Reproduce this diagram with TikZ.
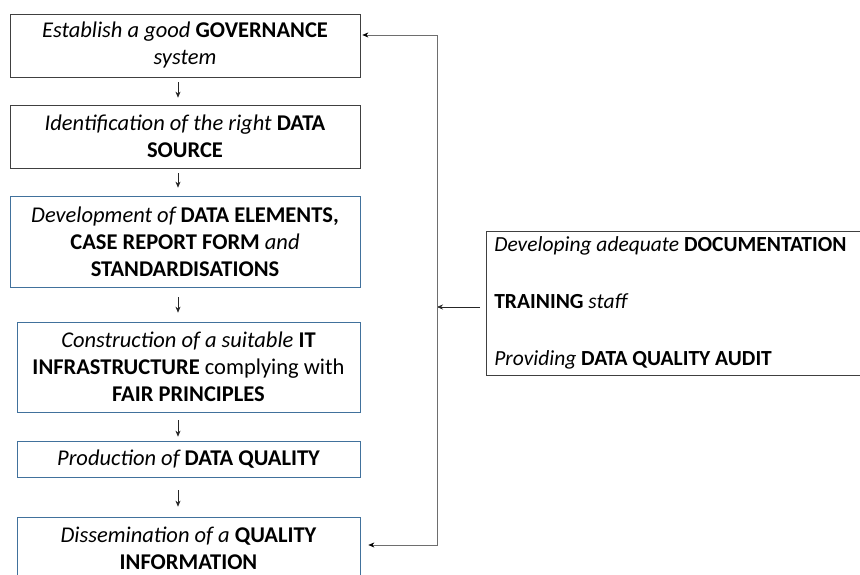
\documentclass[tikz,border=0pt]{standalone}
\usepackage{fontspec}
\setmainfont{Carlito}
\usetikzlibrary{arrows.meta}
\definecolor{boxblue}{RGB}{65,113,156}
\definecolor{loopgray}{RGB}{110,110,110}

\begin{document}
\begin{tikzpicture}[x=1pt,y=1pt,
        stepbox/.style={draw=black!75,line width=0.7pt,align=center,inner sep=0pt,
            font=\fontsize{22.5}{27}\selectfont},
        bluebox/.style={stepbox,draw=boxblue},
        flow/.style={-{Stealth[length=6pt,width=5pt]},line width=0.6pt,black!85}]
        \useasboundingbox (0,0) rectangle (860,575);
        \clip (0,0) rectangle (860,575);
        \node[stepbox,minimum width=350,minimum height=63] (b1) at (185,529.5)
            {\itshape Establish a good \textbf{\upshape GOVERNANCE}\\ \itshape system};
        \node[stepbox,minimum width=350,minimum height=63] (b2) at (185,438.5)
            {\itshape Identification of the right \textbf{\upshape DATA}\\ \textbf{\upshape SOURCE}};
        \node[bluebox,minimum width=350,minimum height=91] (b3) at (185,333.5)
            {\itshape Development of \textbf{\upshape DATA ELEMENTS,}\\
             \textbf{\upshape CASE REPORT FORM} \itshape and\\ \textbf{\upshape STANDARDISATIONS}};
        \node[bluebox,minimum width=343,minimum height=90] (b4) at (188.5,208)
            {\itshape Construction of a suitable \textbf{\upshape IT}\\
             \upshape\textbf{INFRASTRUCTURE} complying with\\ \textbf{FAIR PRINCIPLES}};
        \node[bluebox,minimum width=343,minimum height=36] (b5) at (188.5,116)
            {\itshape Production of \textbf{\upshape DATA QUALITY}};
        \node[bluebox,minimum width=343,minimum height=63] (b6) at (188.5,26.5)
            {\itshape Dissemination of a \textbf{\upshape QUALITY}\\ \textbf{\upshape INFORMATION}};
        % side box
        \node[stepbox,align=flush left,anchor=west,minimum width=390,minimum height=144,
            text width=380,inner xsep=8pt,font=\fontsize{21.5}{27}\selectfont] (side) at (486,272)
            {\itshape Developing adequate \textbf{\upshape DOCUMENTATION}\\[30pt]
             \textbf{\upshape TRAINING} \itshape staff\\[30pt]
             \itshape Providing \textbf{\upshape DATA QUALITY AUDIT}};
        \coordinate (ax) at (178,0);
        \coordinate (fb) at (437,0);
        \coordinate (t) at (437,540);
        \coordinate (bt) at (437,30);
        \draw[flow,shorten <=5pt,shorten >=7pt] (b1.south -| ax) -- (b2.north -| ax);
        \draw[flow,shorten <=5pt,shorten >=8pt] (b2.south -| ax) -- (b3.north -| ax);
        \draw[flow,shorten <=10pt,shorten >=9pt] (b3.south -| ax) -- (b4.north -| ax);
        \draw[flow,shorten <=8pt,shorten >=4pt] (b4.south -| ax) -- (b5.north -| ax);
        \draw[flow,shorten <=13pt,shorten >=10pt] (b5.south -| ax) -- (b6.north -| ax);
        % feedback loop
        \draw[flow,shorten <=6pt] ([yshift=-4pt]side.west) -- ([yshift=-4pt]side.west -| fb);
        \draw[line width=0.6pt,loopgray,
            {Stealth[length=6pt,width=5pt,color=black]}-{Stealth[length=6pt,width=5pt,color=black]},
            shorten <=2pt,shorten >=8pt]
            (b1.east |- t) -- (t) -- (bt) -- (b6.east |- bt);
\end{tikzpicture}
\end{document}
